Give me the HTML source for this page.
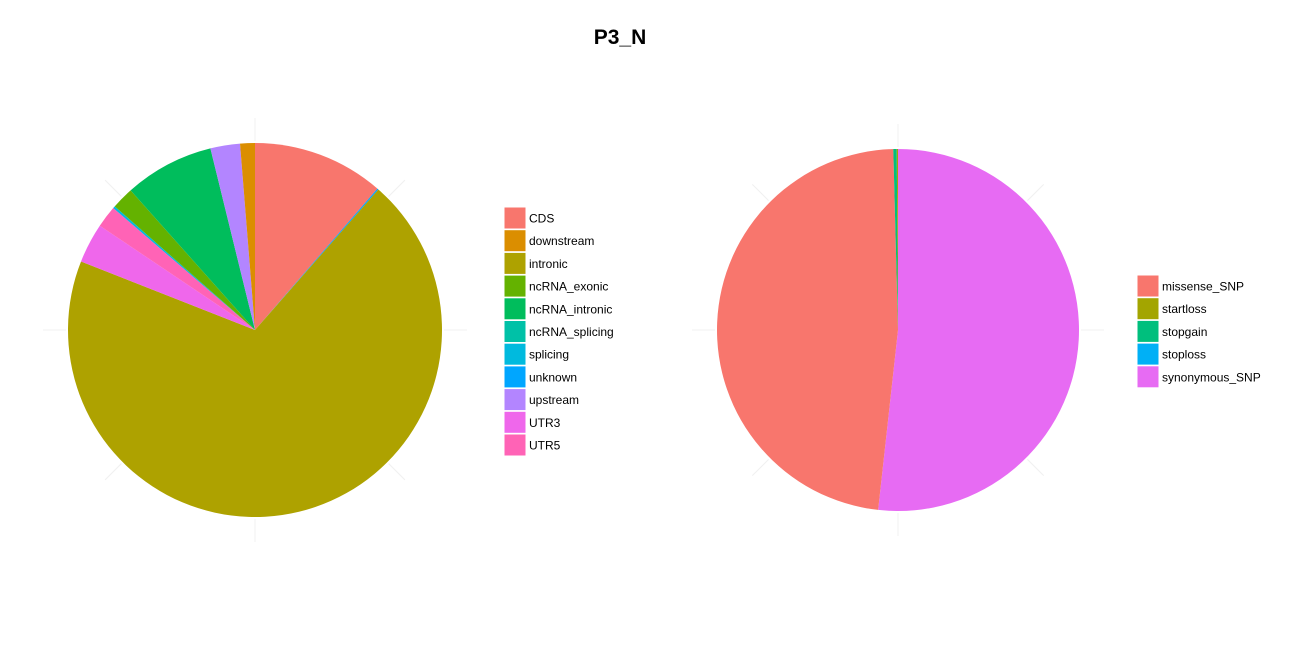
<!DOCTYPE html>
<html><head><meta charset="utf-8"><style>
body{margin:0;background:#fff;}
svg{font-family:"Liberation Sans",sans-serif;}
</style></head><body>
<svg id="c" width="1300" height="650">
<text x="620" y="44" text-anchor="middle" font-size="21" font-weight="bold">P3_N</text>
</svg>
<script>
const leftCats=["CDS","unknown","intronic","UTR3","UTR5","splicing","ncRNA_exonic","ncRNA_intronic","upstream","downstream"];
const leftVals=[40.9,0.4,250.2,12.4,6.8,0.7,6.9,27.9,9.2,4.6];
const leftLegend=["CDS","downstream","intronic","ncRNA_exonic","ncRNA_intronic","ncRNA_splicing","splicing","unknown","upstream","UTR3","UTR5"];
const leftColors=["#F8766D","#DB8E00","#AEA200","#64B200","#00BD5C","#00C1A7","#00BADE","#00A6FF","#B385FF","#EF67EB","#FF63B6"];
const rightCats=["synonymous_SNP","missense_SNP","stopgain","startloss"];
const rightVals=[186.3,172.2,1.1,0.4];
const rightLegend=["missense_SNP","startloss","stopgain","stoploss","synonymous_SNP"];
const rightColors=["#F8766D","#A3A500","#00BF7D","#00B0F6","#E76BF3"];
const NS="http://www.w3.org/2000/svg";
const svg=document.getElementById('c');
function mk(t,a){const e=document.createElementNS(NS,t);for(const k in a)e.setAttribute(k,a[k]);svg.appendChild(e);return e;}
function pie(cats,vals,legend,colors,cx,cy,r,name){
  for(let i=0;i<8;i++){const a=i*Math.PI/4;
    const l=mk('line',{x1:cx+Math.sin(a)*(r+2),y1:cy-Math.cos(a)*(r+2),x2:cx+Math.sin(a)*(r+25),y2:cy-Math.cos(a)*(r+25),stroke:'#f0f0f0','stroke-width':1});
    
    }
  const tot=vals.reduce((a,b)=>a+b,0);let acc=0;
  cats.forEach((c,i)=>{
    const a0=acc/tot*2*Math.PI;acc+=vals[i];const a1=acc/tot*2*Math.PI;
    const x0=cx+r*Math.sin(a0),y0=cy-r*Math.cos(a0),x1=cx+r*Math.sin(a1),y1=cy-r*Math.cos(a1);
    const large=(a1-a0)>Math.PI?1:0;
    const p=mk('path',{d:`M${cx},${cy}L${x0},${y0}A${r},${r} 0 ${large} 1 ${x1},${y1}Z`,fill:colors[legend.indexOf(c)]});
    
    
  });
}
function leg(legend,colors,x,y,name){
  legend.forEach((c,i)=>{
    const yy=y+i*22.7;
    const r=mk('rect',{x:x,y:yy,width:22,height:22,fill:colors[i],stroke:'#fff','stroke-width':1});
    
    
    const t=mk('text',{x:x+25,y:yy+15.5,'font-size':12,fill:'#000'});t.textContent=c;
    
    
  });
}
pie(leftCats,leftVals,leftLegend,leftColors,255,330,187,'left-pie');
pie(rightCats,rightVals,rightLegend,rightColors,898,330,181,'right-pie');
leg(leftLegend,leftColors,504,207,'left-legend');
leg(rightLegend,rightColors,1137,275,'right-legend');
</script>
</body></html>
